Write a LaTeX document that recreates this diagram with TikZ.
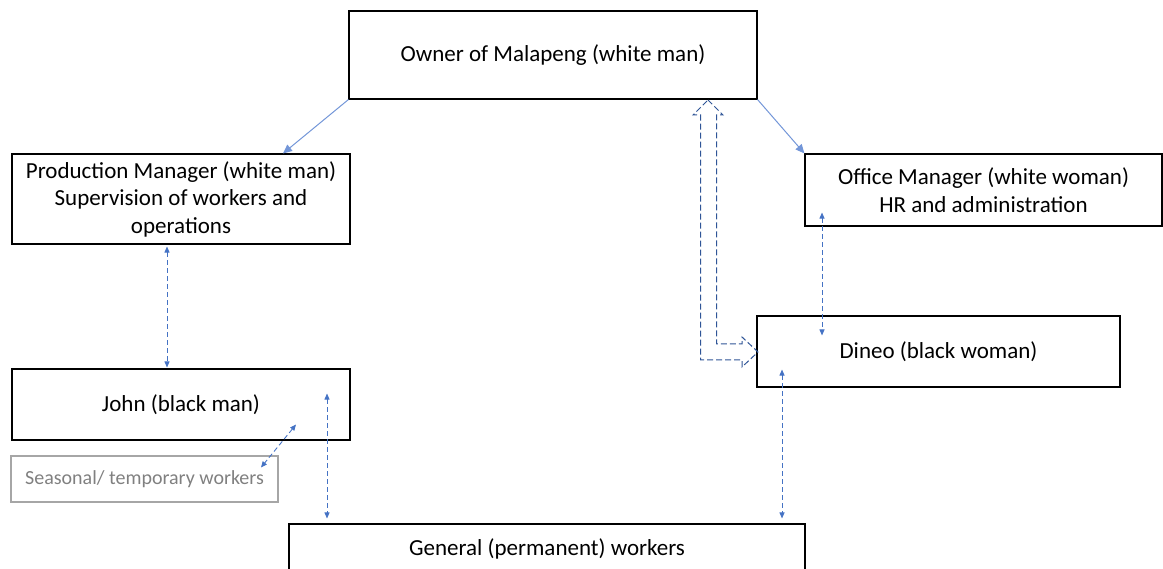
\documentclass[tikz,border=0pt]{standalone}
\usepackage{fontspec}
\setmainfont{Carlito}
\usetikzlibrary{arrows.meta}

\definecolor{linkblue}{HTML}{4472C4}
\definecolor{solidblue}{HTML}{7396D8}
\definecolor{hollowblue}{HTML}{2F5597}
\definecolor{paleframe}{HTML}{A6A6A6}
\definecolor{paletext}{HTML}{808080}

\tikzset{
	box/.style={draw, line width=1.1pt, inner sep=0pt, align=center,
		font=\fontsize{23}{27.5}\selectfont},
	palebox/.style={box, draw=paleframe, text=paletext,
		font=\fontsize{20}{24}\selectfont},
	report/.style={draw=solidblue, line width=1pt, -{Triangle[length=9pt,width=8pt]}},
	contact/.style={draw=linkblue, line width=.9pt, dash pattern=on 5pt off 3pt,
		{Triangle[length=6pt,width=5pt]}-{Triangle[length=6pt,width=5pt]}},
}

\begin{document}
\begin{tikzpicture}[x=1pt,y=-1pt]
	\useasboundingbox (0,0) rectangle (1163,569);
	\clip (0,0) rectangle (1163,569);
	
	\node[box, minimum width=408pt, minimum height=88pt] (owner) at (553,55) {Owner of Malapeng (white man)};
	\node[box, minimum width=338pt, minimum height=90pt] (prodmgr) at (181,199) {Production Manager (white man)\\Supervision of workers and\\operations};
	\node[box, minimum width=357pt, minimum height=72pt] (officemgr) at (983.5,190) {Office Manager (white woman)\\HR and administration};
	\node[box, minimum width=363pt, minimum height=71pt] (dineo) at (938.5,351.5) {Dineo (black woman)};
	\node[box, minimum width=338pt, minimum height=71pt] (john) at (181,404.5) {John (black man)};
	\node[palebox, minimum width=267pt, minimum height=46pt] (seasonal) at (144.5,479) {\raisebox{-1.5pt}{Seasonal/ temporary workers}};
	\node[box, minimum width=516pt, minimum height=50pt] (general) at (547,549) {General (permanent) workers};
	
	\draw[report] (owner.south west) -- ([xshift=102pt]prodmgr.north);
	\draw[report] (owner.south east) -- (officemgr.north west);
	
	\draw[contact] ([xshift=-14pt,yshift=-2pt]prodmgr.south) -- ([xshift=-14pt,yshift=1pt]john.north);
	\draw[contact] ([xshift=-161.5pt,yshift=14pt]officemgr.south) -- ([xshift=-116.5pt,yshift=-20pt]dineo.north);
	\draw[contact] ([xshift=115pt,yshift=16pt]john.south) -- ([xshift=116.5pt,yshift=-12pt]seasonal.north);
	\draw[contact] ([xshift=146pt,yshift=47pt]john.south) -- ([xshift=-220pt,yshift=5pt]general.north);
	\draw[contact] ([xshift=-156.5pt,yshift=18pt]dineo.south) -- ([xshift=235pt,yshift=5pt]general.north);
	
	% owner <-> dineo, hollow bent arrow
	\draw[hollowblue, line width=1pt, dash pattern=on 6pt off 3pt, line join=miter]
		(708,100) -- (723,115) -- (716.5,115) -- (716.5,344) -- (742,344) -- (742,337)
		-- (758,352) -- (742,367) -- (742,360) -- (700.5,360) -- (700.5,115) -- (693,115) -- cycle;
\end{tikzpicture}
\end{document}
